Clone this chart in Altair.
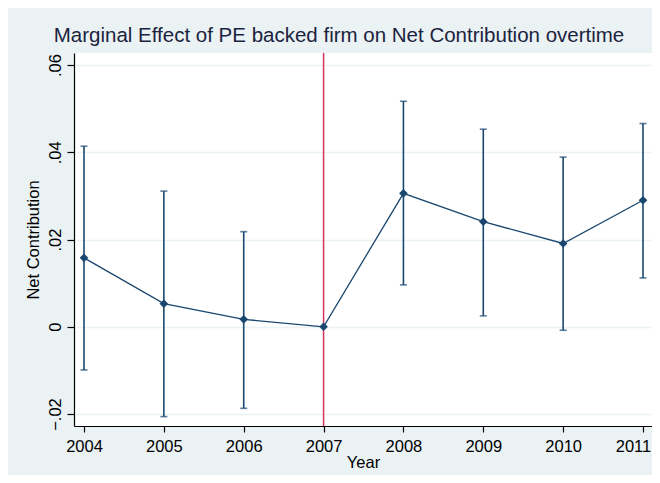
import altair as alt
import pandas as pd

years = [2004, 2005, 2006, 2007, 2008, 2009, 2010, 2011]
estimate = [0.0158, 0.0053, 0.0017, 0.0, 0.0306, 0.0241, 0.0191, 0.0290]
ci_low = [-0.0099, -0.0206, -0.0187, 0.0, 0.0096, 0.0025, -0.0008, 0.0112]
ci_high = [0.0414, 0.0311, 0.0218, 0.0, 0.0517, 0.0453, 0.0389, 0.0466]
event_year = [2007]
y_ticks = [-0.02, 0.0, 0.02, 0.04, 0.06]

FONT = "Liberation Sans"
NAVY = "#1a476f"
BG = "#eaf2f3"

df = pd.DataFrame({"year": years, "est": estimate, "lo": ci_low, "hi": ci_high})
ci = df[df["lo"] != df["hi"]]
ev = pd.DataFrame({"year": event_year})

xscale = alt.Scale(domain=[2003.8748, 2011.1127], nice=False, zero=False)
yscale = alt.Scale(domain=[-0.02275, 0.06277], nice=False, zero=False)

xaxis = alt.Axis(values=years, format="d", title="Year", grid=False,
                 domainColor="black", domainWidth=1.2, tickColor="black", tickWidth=1.2,
                 tickSize=6, labelFont=FONT, labelFontSize=16.5, labelColor="black",
                 labelPadding=6,
                 labelOffset=alt.condition("datum.value == 2011", alt.value(-10), alt.value(0)),
                 titleFont=FONT, titleFontSize=16.5, titleFontWeight="normal",
                 titleColor="black", titlePadding=0, labelFlush=False)
yaxis = alt.Axis(values=y_ticks, title="Net Contribution", grid=True, gridColor=BG, gridWidth=1.5,
                 domainColor="black", domainWidth=1.2, tickColor="black", tickWidth=1.2,
                 tickSize=7, labelFont=FONT, labelFontSize=16.5, labelColor="black",
                 labelAngle=270, labelAlign="center", labelBaseline="bottom", labelPadding=4,
                 labelExpr="datum.value == 0 ? '0' : replace(format(datum.value, '.2f'), '0.', '.')",
                 titleFont=FONT, titleFontSize=16.5, titleFontWeight="normal", titleColor="black",
                 titlePadding=6, labelFlush=False)

base = alt.Chart(df)

line = base.mark_line(color=NAVY, strokeWidth=1.3).encode(
    x=alt.X("year:Q", scale=xscale, axis=xaxis),
    y=alt.Y("est:Q", scale=yscale, axis=yaxis),
)
points = base.mark_point(shape="diamond", filled=True, color=NAVY, size=75, opacity=1).encode(
    x=alt.X("year:Q", scale=xscale),
    y=alt.Y("est:Q", scale=yscale),
)
bars = alt.Chart(ci).mark_rule(color=NAVY, strokeWidth=1.6).encode(
    x=alt.X("year:Q", scale=xscale),
    y=alt.Y("lo:Q", scale=yscale),
    y2="hi:Q",
)
cap_lo = alt.Chart(ci).mark_tick(color=NAVY, orient="horizontal", size=7, thickness=1.6).encode(
    x=alt.X("year:Q", scale=xscale),
    y=alt.Y("lo:Q", scale=yscale),
)
cap_hi = alt.Chart(ci).mark_tick(color=NAVY, orient="horizontal", size=7, thickness=1.6).encode(
    x=alt.X("year:Q", scale=xscale),
    y=alt.Y("hi:Q", scale=yscale),
)
vline = alt.Chart(ev).mark_rule(color="#d6335f", strokeWidth=1.5).encode(
    x=alt.X("year:Q", scale=xscale),
)

chart = alt.layer(vline, bars, cap_lo, cap_hi, line, points).properties(
    width=578,
    height=373,
    background=BG,
    padding={"left": 66, "top": 45, "right": 0, "bottom": 49},
    autosize=alt.AutoSizeParams(type="none"),
    title=alt.TitleParams(
        "Marginal Effect of PE backed firm on Net Contribution overtime",
        font=FONT, fontSize=20.5, fontWeight="normal", color="#1c2340",
        anchor="middle", dx=-24, offset=6,
    ),
).configure_view(fill="white", strokeWidth=0)

chart.save("out.html", embed_options={"renderer": "svg", "actions": False})
